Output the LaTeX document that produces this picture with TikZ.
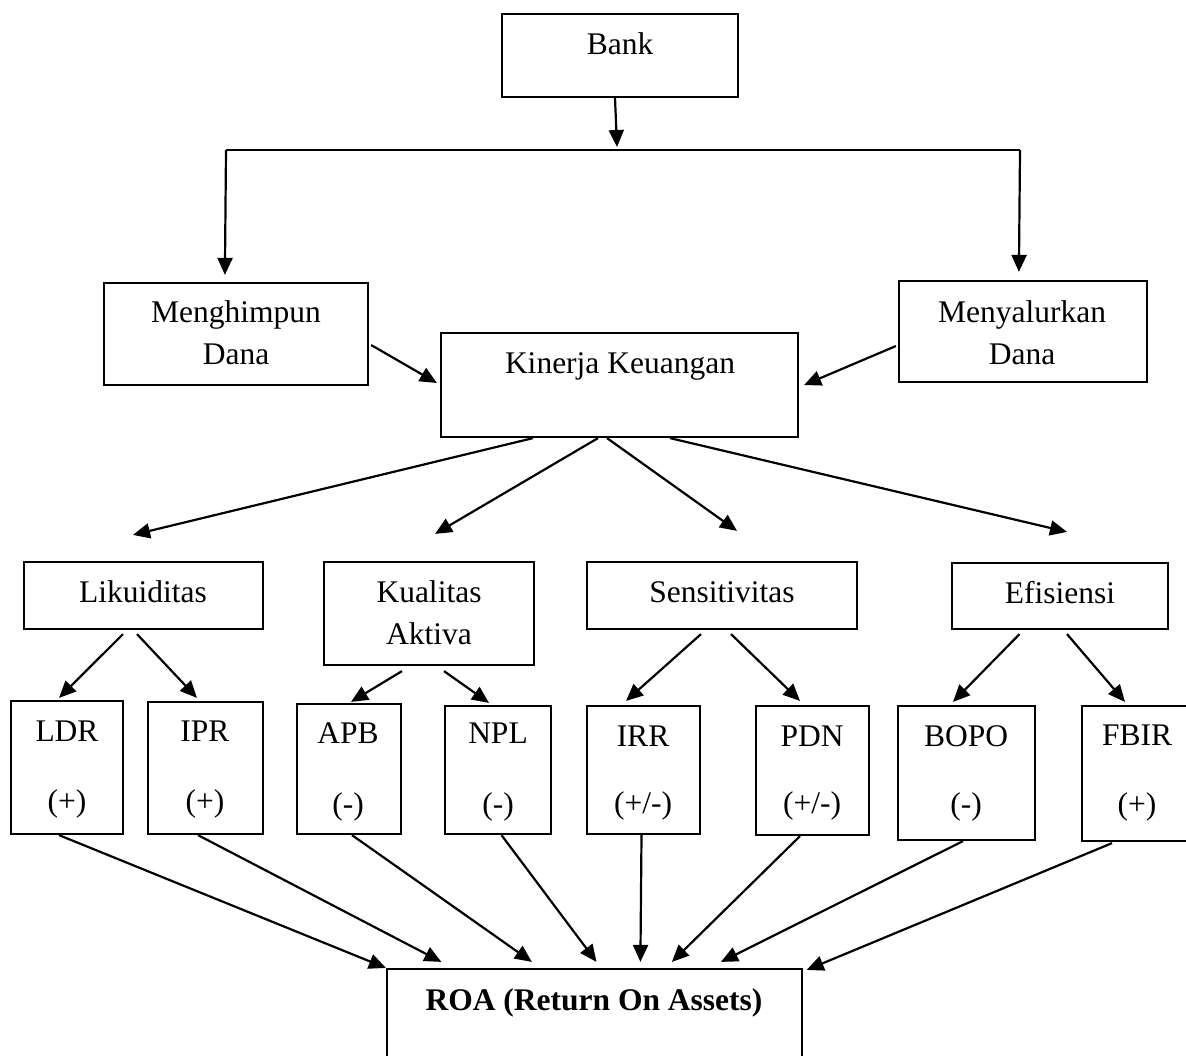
\documentclass[tikz,border=0pt]{standalone}
\usepackage{fontspec}
\setmainfont{Liberation Serif}
\usetikzlibrary{calc,fit,arrows.meta}
\begin{document}
\begin{tikzpicture}[x=0.5pt,y=-0.5pt,
  box/.style={draw,line width=1.1pt,inner sep=0pt,rectangle},
  txt/.style={inner sep=0pt,font=\fontsize{15.75pt}{20.75pt}\selectfont,align=center},
  arr/.style={line width=1.1pt,-{Triangle[length=8.5pt,width=7.5pt]}},
  ln/.style={line width=1.1pt}]
\useasboundingbox (0,0) rectangle (1186,1055);
\clip (0,0) rectangle (1186,1055);
% boxes
\node[box,fit={(502,14) (738,97)}] (bank) {};
\node[box,fit={(104,283) (368,385)}] (mh) {};
\node[box,fit={(441,333) (798,437)}] (kk) {};
\node[box,fit={(899,281) (1147,382)}] (ms) {};
\node[box,fit={(24,562) (263,629)}] (lik) {};
\node[box,fit={(324,562) (534,665)}] (kua) {};
\node[box,fit={(587,562) (857,629)}] (sen) {};
\node[box,fit={(952,563) (1168,629)}] (efi) {};
\node[box,fit={(11,701) (123,834)}] (ldr) {};
\node[box,fit={(148,702) (263,834)}] (ipr) {};
\node[box,fit={(297,704) (401,834)}] (apb) {};
\node[box,fit={(445,706) (551,834)}] (npl) {};
\node[box,fit={(587,706) (700,834)}] (irr) {};
\node[box,fit={(756,706) (869,835)}] (pdn) {};
\node[box,fit={(898,706) (1035,840)}] (bopo) {};
\node[box,fit={(1082,706) (1195,841)}] (fbir) {};
\node[box,fit={(387,969) (802,1075)}] (roa) {};
% texts
\node[txt,anchor=base] (bankt) at (620,54) {Bank};
\node[txt,anchor=base] (mht) at (236,364) {Menghimpun\\Dana};
\node[txt,anchor=base] (kkt) at (620,373) {Kinerja Keuangan};
\node[txt,anchor=base] (mst) at (1022,364) {Menyalurkan\\Dana};
\node[txt,anchor=base] (likt) at (143,602) {Likuiditas};
\node[txt,anchor=base] (kuat) at (429,644) {Kualitas\\Aktiva};
\node[txt,anchor=base] (sent) at (722,602) {Sensitivitas};
\node[txt,anchor=base] (efit) at (1060,603) {Efisiensi};
\node[txt,anchor=base] (ldrt) at (67,741) {LDR};
\node[txt,anchor=base] (ldrs) at (67,811) {(+)};
\node[txt,anchor=base] (iprt) at (205,741) {IPR};
\node[txt,anchor=base] (iprs) at (205,811) {(+)};
\node[txt,anchor=base] (apbt) at (348,743) {APB};
\node[txt,anchor=base] (apbs) at (348,814) {(-)};
\node[txt,anchor=base] (nplt) at (498,743) {NPL};
\node[txt,anchor=base] (npls) at (498,814) {(-)};
\node[txt,anchor=base] (irrt) at (643,746) {IRR};
\node[txt,anchor=base] (irrs) at (643,813) {(+/-)};
\node[txt,anchor=base] (pdnt) at (812,746) {PDN};
\node[txt,anchor=base] (pdns) at (812,813) {(+/-)};
\node[txt,anchor=base] (bopot) at (966,746) {BOPO};
\node[txt,anchor=base] (bopos) at (966,814) {(-)};
\node[txt,anchor=base] (fbirt) at (1137,745) {FBIR};
\node[txt,anchor=base] (fbirs) at (1137,814) {(+)};
\node[txt,anchor=base,font=\fontsize{15.75pt}{20.75pt}\selectfont\bfseries] (roat) at (594,1010) {ROA (Return On Assets)};
% fork
\coordinate (forkL) at (226,150);
\coordinate (forkR) at (1020,150);
\coordinate (forkM) at (617,150);
\draw[arr] ($(bank.south)+(-5,0)$) -- ($(forkM)+(0,-3)$);
\draw[ln] (forkL) -- (forkR);
\draw[arr] (forkL) -- ($(mh.north west)+(122,-7)$);
\draw[arr] (forkR) -- ($(ms.north west)+(121,-8)$);
\draw[arr] ($(mh.east)+(2,11)$) -- ($(kk.west)+(-3,-2)$);
\draw[arr] ($(ms.west)+(-2,14.5)$) -- ($(kk.east)+(5,0)$);
% kinerja to categories
\draw[arr] ($(kk.south)+(-86.5,0)$) -- ($(lik.north)+(-10.5,-26)$);
\draw[arr] ($(kk.south)+(-21.5,0)$) -- ($(kua.north)+(6,-27)$);
\draw[arr] ($(kk.south)+(-12.5,0)$) -- ($(sen.north)+(15,-30)$);
\draw[arr] ($(kk.south)+(50.5,0)$) -- ($(efi.north)+(7,-30)$);
% categories to ratios
\draw[arr] ($(lik.south)+(-20.5,4)$) -- ($(ldr.north)+(-8,-2)$);
\draw[arr] ($(lik.south)+(-6.5,4)$) -- ($(ipr.north)+(-8.5,-3)$);
\draw[arr] ($(kua.south)+(-27,5)$) -- ($(apb.north)+(2,-1)$);
\draw[arr] ($(kua.south)+(15,5)$) -- ($(npl.north)+(-9,-2)$);
\draw[arr] ($(sen.south)+(-21,4)$) -- ($(irr.north)+(-17.5,-4)$);
\draw[arr] ($(sen.south)+(9,4)$) -- ($(pdn.north)+(-12.5,-4)$);
\draw[arr] ($(efi.south)+(-40.5,4)$) -- ($(bopo.north)+(-13.5,-3)$);
\draw[arr] ($(efi.south)+(7,4)$) -- ($(fbir.north)+(-13.5,-3)$);
% ratios to ROA
\draw[arr] ($(ldr.south)+(-8,0)$) -- (roa.north west);
\draw[arr] ($(ipr.south)+(-7.5,0)$) -- ($(roa.north west)+(55.5,-6)$);
\draw[arr] ($(apb.south)+(3,0)$) -- ($(roa.north west)+(146,-6)$);
\draw[arr] ($(npl.south)+(3.5,0)$) -- ($(roa.north west)+(210.6,-6)$);
\draw[arr] ($(irr.south)+(-2,0)$) -- ($(roa.north west)+(254.5,-6)$);
\draw[arr] ($(pdn.south)+(-12.5,0)$) -- ($(roa.north west)+(286,-6)$);
\draw[arr] ($(bopo.south)+(-3.5,0)$) -- ($(roa.north west)+(335,-6)$);
\draw[arr] ($(fbir.south)+(-26.5,1)$) -- ($(roa.north east)+(3.6,2)$);
\end{tikzpicture}
\end{document}
